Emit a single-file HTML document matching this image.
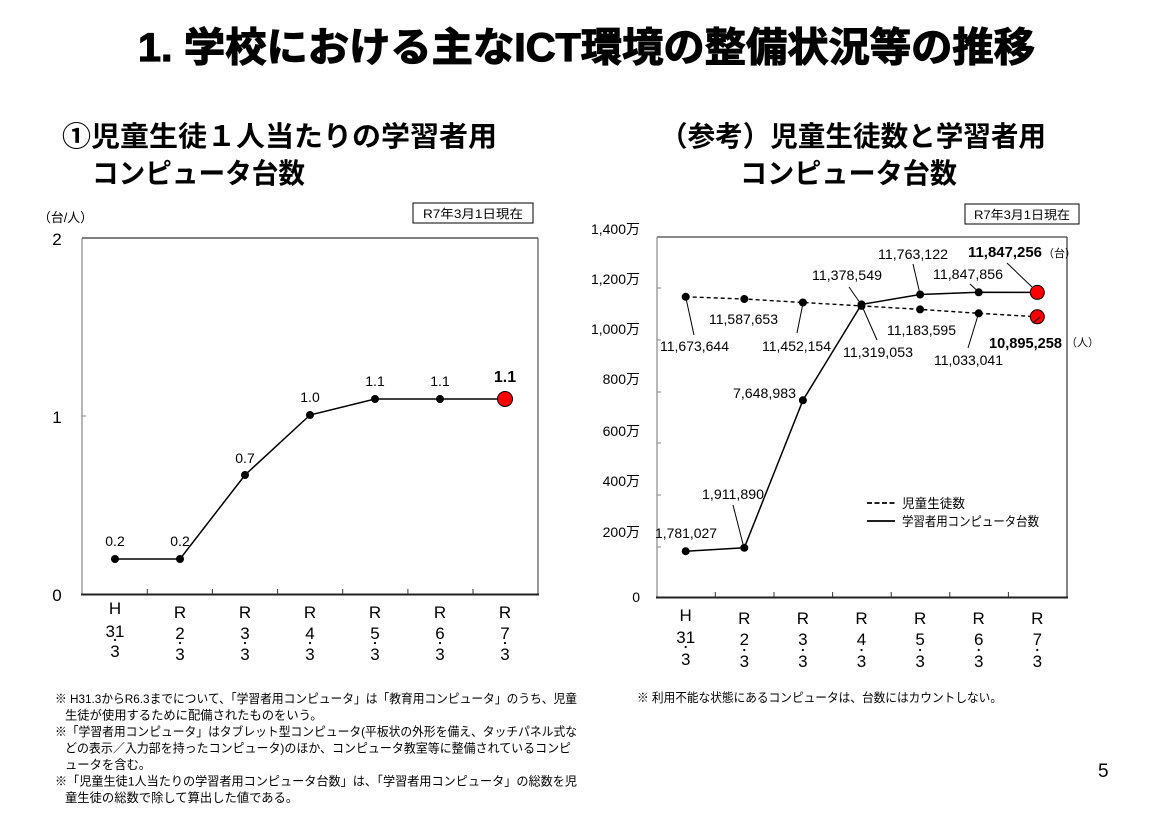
<!DOCTYPE html>
<html><head><meta charset="utf-8"><style>
html,body{margin:0;padding:0;background:#fff;}
svg{display:block;}
text{font-family:"Liberation Sans","Noto Sans CJK JP",sans-serif;fill:#000;}
</style></head><body>
<svg width="1170" height="831" viewBox="0 0 1170 831" xmlns="http://www.w3.org/2000/svg">
<rect width="1170" height="831" fill="#fff"/>
<!-- Title -->
<text x="138" y="61" font-size="40" font-weight="bold" stroke="#000" stroke-width="1.2" textLength="897" lengthAdjust="spacingAndGlyphs">1. 学校における主なICT環境の整備状況等の推移</text>
<!-- Subtitles -->
<text x="62" y="146" font-size="28" font-weight="bold" textLength="435" lengthAdjust="spacingAndGlyphs">①児童生徒１人当たりの学習者用</text>
<text x="92" y="183" font-size="28" font-weight="bold" textLength="213" lengthAdjust="spacingAndGlyphs">コンピュータ台数</text>
<text x="660" y="146" font-size="28" font-weight="bold" textLength="386" lengthAdjust="spacingAndGlyphs">（参考）児童生徒数と学習者用</text>
<text x="740" y="183" font-size="28" font-weight="bold" textLength="217" lengthAdjust="spacingAndGlyphs">コンピュータ台数</text>

<!-- ===== Left chart ===== -->
<text x="38" y="222" font-size="13" textLength="55" lengthAdjust="spacingAndGlyphs">（台/人）</text>
<rect x="413" y="203" width="120" height="20" fill="#fff" stroke="#000" stroke-width="1"/>
<text x="473" y="218" font-size="12" text-anchor="middle" textLength="100" lengthAdjust="spacingAndGlyphs">R7年3月1日現在</text>

<line x1="82" y1="238" x2="538" y2="238" stroke="#333" stroke-width="1.2"/>
<line x1="82" y1="238" x2="82" y2="594" stroke="#888" stroke-width="1.2"/>
<line x1="538" y1="238" x2="538" y2="594" stroke="#555" stroke-width="1.2"/>
<line x1="82" y1="416" x2="86" y2="416" stroke="#888" stroke-width="1"/>
<line x1="81" y1="594.5" x2="539" y2="594.5" stroke="#222" stroke-width="2"/>
<g stroke="#333" stroke-width="1">
<line x1="147.3" y1="594" x2="147.3" y2="589"/>
<line x1="212.4" y1="594" x2="212.4" y2="589"/>
<line x1="277.6" y1="594" x2="277.6" y2="589"/>
<line x1="342.7" y1="594" x2="342.7" y2="589"/>
<line x1="407.9" y1="594" x2="407.9" y2="589"/>
<line x1="473" y1="594" x2="473" y2="589"/>
</g>
<text x="57" y="245" font-size="17" text-anchor="middle">2</text>
<text x="57" y="423" font-size="17" text-anchor="middle">1</text>
<text x="57" y="601" font-size="17" text-anchor="middle">0</text>

<polyline points="115,559 180,559 245,475 310,415 375,399 440,399 505,399" fill="none" stroke="#000" stroke-width="1.5"/>
<g fill="#000">
<circle cx="115" cy="559" r="4"/>
<circle cx="180" cy="559" r="4"/>
<circle cx="245" cy="475" r="4"/>
<circle cx="310" cy="415" r="4"/>
<circle cx="375" cy="399" r="4"/>
<circle cx="440" cy="399" r="4"/>
</g>
<circle cx="505" cy="399" r="7.5" fill="#ff0000" stroke="#000" stroke-width="1"/>
<g font-size="14" text-anchor="middle">
<text x="115" y="546">0.2</text>
<text x="180" y="546">0.2</text>
<text x="245" y="463">0.7</text>
<text x="310" y="402">1.0</text>
<text x="375" y="386">1.1</text>
<text x="440" y="386">1.1</text>
</g>
<text x="505" y="382" font-size="16" font-weight="bold" text-anchor="middle">1.1</text>

<g font-size="17" text-anchor="middle">
<text x="115" y="614">H</text><text x="115" y="637">31</text><text x="115" y="657">3</text>
<text x="180" y="618">R</text><text x="180" y="639">2</text><text x="180" y="660">3</text>
<text x="245" y="618">R</text><text x="245" y="639">3</text><text x="245" y="660">3</text>
<text x="310" y="618">R</text><text x="310" y="639">4</text><text x="310" y="660">3</text>
<text x="375" y="618">R</text><text x="375" y="639">5</text><text x="375" y="660">3</text>
<text x="440" y="618">R</text><text x="440" y="639">6</text><text x="440" y="660">3</text>
<text x="505" y="618">R</text><text x="505" y="639">7</text><text x="505" y="660">3</text>
</g>
<g fill="#000">
<circle cx="115" cy="640" r="1.1"/>
<circle cx="180" cy="643" r="1.1"/>
<circle cx="245" cy="643" r="1.1"/>
<circle cx="310" cy="643" r="1.1"/>
<circle cx="375" cy="643" r="1.1"/>
<circle cx="440" cy="643" r="1.1"/>
<circle cx="505" cy="643" r="1.1"/>
</g>

<!-- ===== Right chart ===== -->
<rect x="965" y="204" width="114" height="20" fill="#fff" stroke="#000" stroke-width="1"/>
<text x="1022" y="219" font-size="12" text-anchor="middle" textLength="96" lengthAdjust="spacingAndGlyphs">R7年3月1日現在</text>

<line x1="657" y1="237" x2="1067" y2="237" stroke="#444" stroke-width="1.2"/>
<line x1="657" y1="237" x2="657" y2="597" stroke="#888" stroke-width="1.2"/>
<line x1="1067" y1="237" x2="1067" y2="597" stroke="#333" stroke-width="1.2"/>
<line x1="656" y1="597.5" x2="1068" y2="597.5" stroke="#222" stroke-width="2"/>
<g stroke="#888" stroke-width="1">
<line x1="657" y1="547" x2="661" y2="547"/>
<line x1="657" y1="495" x2="661" y2="495"/>
<line x1="657" y1="443" x2="661" y2="443"/>
<line x1="657" y1="392" x2="661" y2="392"/>
<line x1="657" y1="340" x2="661" y2="340"/>
<line x1="657" y1="288" x2="661" y2="288"/>
</g>
<g stroke="#333" stroke-width="1">
<line x1="715.3" y1="597" x2="715.3" y2="592"/>
<line x1="774" y1="597" x2="774" y2="592"/>
<line x1="832.6" y1="597" x2="832.6" y2="592"/>
<line x1="891.2" y1="597" x2="891.2" y2="592"/>
<line x1="949.8" y1="597" x2="949.8" y2="592"/>
<line x1="1008.4" y1="597" x2="1008.4" y2="592"/>
</g>
<g font-size="14" text-anchor="end">
<text x="640" y="234">1,400万</text>
<text x="640" y="284">1,200万</text>
<text x="640" y="334">1,000万</text>
<text x="640" y="384">800万</text>
<text x="640" y="436">600万</text>
<text x="640" y="486">400万</text>
<text x="640" y="537">200万</text>
<text x="640" y="602">0</text>
</g>

<!-- students dashed -->
<polyline points="685.7,296.8 744.3,299 802.9,302.5 861.5,305.9 920.1,309.4 978.7,313.3 1037.3,316.8" fill="none" stroke="#000" stroke-width="1.4" stroke-dasharray="4,3"/>
<!-- computers solid -->
<polyline points="685.7,551.2 744.3,547.8 802.9,400.3 861.5,304.4 920.1,294.5 978.7,292.3 1037.3,292.4" fill="none" stroke="#000" stroke-width="1.5"/>
<g fill="#000">
<circle cx="685.7" cy="296.8" r="4"/>
<circle cx="744.3" cy="299" r="4"/>
<circle cx="802.9" cy="302.5" r="4"/>
<circle cx="861.5" cy="305.9" r="4"/>
<circle cx="920.1" cy="309.4" r="4"/>
<circle cx="978.7" cy="313.3" r="4"/>
<circle cx="685.7" cy="551.2" r="4"/>
<circle cx="744.3" cy="547.8" r="4"/>
<circle cx="802.9" cy="400.3" r="4"/>
<circle cx="861.5" cy="304.4" r="4"/>
<circle cx="920.1" cy="294.5" r="4"/>
<circle cx="978.7" cy="292.3" r="4"/>
</g>
<circle cx="1037.3" cy="292.4" r="7" fill="#ff0000" stroke="#000" stroke-width="1"/>
<circle cx="1037.3" cy="316.8" r="7" fill="#ff0000" stroke="#000" stroke-width="1"/>

<!-- leader lines -->
<g stroke="#000" stroke-width="1">
<line x1="685.7" y1="297" x2="694" y2="335"/>
<line x1="803" y1="303" x2="797" y2="333"/>
<line x1="849" y1="287" x2="861.5" y2="305"/>
<line x1="862" y1="306" x2="877" y2="340"/>
<line x1="913" y1="264" x2="920" y2="294"/>
<line x1="970" y1="284" x2="978.7" y2="292"/>
<line x1="968" y1="348" x2="978.7" y2="313"/>
<line x1="1007" y1="263" x2="1032" y2="287"/>
<line x1="1033" y1="323" x2="1040" y2="317"/>
<line x1="733" y1="505" x2="744" y2="548"/>
</g>

<g font-size="14">
<text x="660" y="351" textLength="69" lengthAdjust="spacingAndGlyphs">11,673,644</text>
<text x="709" y="324" textLength="69" lengthAdjust="spacingAndGlyphs">11,587,653</text>
<text x="762" y="351" textLength="69" lengthAdjust="spacingAndGlyphs">11,452,154</text>
<text x="812" y="280" textLength="70" lengthAdjust="spacingAndGlyphs">11,378,549</text>
<text x="843" y="357" textLength="70" lengthAdjust="spacingAndGlyphs">11,319,053</text>
<text x="878" y="259" textLength="70" lengthAdjust="spacingAndGlyphs">11,763,122</text>
<text x="887" y="335" textLength="69" lengthAdjust="spacingAndGlyphs">11,183,595</text>
<text x="933" y="279" textLength="70" lengthAdjust="spacingAndGlyphs">11,847,856</text>
<text x="934" y="365" textLength="69" lengthAdjust="spacingAndGlyphs">11,033,041</text>
<text x="733" y="398" textLength="63" lengthAdjust="spacingAndGlyphs">7,648,983</text>
<text x="702" y="499" textLength="62" lengthAdjust="spacingAndGlyphs">1,911,890</text>
<text x="655" y="538" textLength="62" lengthAdjust="spacingAndGlyphs">1,781,027</text>
</g>
<text x="968" y="257" font-size="15" font-weight="bold" textLength="74" lengthAdjust="spacingAndGlyphs">11,847,256</text>
<text x="1043" y="257" font-size="11">（台）</text>
<text x="989" y="348" font-size="15" font-weight="bold" textLength="73" lengthAdjust="spacingAndGlyphs">10,895,258</text>
<text x="1066" y="346" font-size="11">（人）</text>

<!-- legend -->
<line x1="867" y1="503" x2="895" y2="503" stroke="#000" stroke-width="1.8" stroke-dasharray="5,2.5"/>
<line x1="867" y1="521" x2="895" y2="521" stroke="#000" stroke-width="1.8"/>
<text x="902" y="508" font-size="13" textLength="63" lengthAdjust="spacingAndGlyphs">児童生徒数</text>
<text x="902" y="526" font-size="13" textLength="137" lengthAdjust="spacingAndGlyphs">学習者用コンピュータ台数</text>

<g font-size="17" text-anchor="middle">
<text x="685.7" y="621">H</text><text x="685.7" y="643">31</text><text x="685.7" y="665">3</text>
<text x="744.3" y="624">R</text><text x="744.3" y="645">2</text><text x="744.3" y="667">3</text>
<text x="802.9" y="624">R</text><text x="802.9" y="645">3</text><text x="802.9" y="667">3</text>
<text x="861.5" y="624">R</text><text x="861.5" y="645">4</text><text x="861.5" y="667">3</text>
<text x="920.1" y="624">R</text><text x="920.1" y="645">5</text><text x="920.1" y="667">3</text>
<text x="978.7" y="624">R</text><text x="978.7" y="645">6</text><text x="978.7" y="667">3</text>
<text x="1037.3" y="624">R</text><text x="1037.3" y="645">7</text><text x="1037.3" y="667">3</text>
</g>
<g fill="#000">
<circle cx="685.7" cy="647" r="1.1"/>
<circle cx="744.3" cy="650" r="1.1"/>
<circle cx="802.9" cy="650" r="1.1"/>
<circle cx="861.5" cy="650" r="1.1"/>
<circle cx="920.1" cy="650" r="1.1"/>
<circle cx="978.7" cy="650" r="1.1"/>
<circle cx="1037.3" cy="650" r="1.1"/>
</g>

<!-- footnotes -->
<g font-size="12.3">
<text x="55" y="703" textLength="522" lengthAdjust="spacingAndGlyphs">※ H31.3からR6.3までについて、「学習者用コンピュータ」は「教育用コンピュータ」のうち、児童</text>
<text x="65" y="719.5">生徒が使用するために配備されたものをいう。</text>
<text x="55" y="736" textLength="522" lengthAdjust="spacingAndGlyphs">※「学習者用コンピュータ」はタブレット型コンピュータ(平板状の外形を備え、タッチパネル式な</text>
<text x="65" y="752.5" textLength="506" lengthAdjust="spacingAndGlyphs">どの表示／入力部を持ったコンピュータ)のほか、コンピュータ教室等に整備されているコンピ</text>
<text x="65" y="769">ュータを含む。</text>
<text x="55" y="785.5" textLength="522" lengthAdjust="spacingAndGlyphs">※「児童生徒1人当たりの学習者用コンピュータ台数」は、「学習者用コンピュータ」の総数を児</text>
<text x="65" y="802">童生徒の総数で除して算出した値である。</text>
</g>
<text x="637" y="702" font-size="12.3" textLength="365" lengthAdjust="spacingAndGlyphs">※ 利用不能な状態にあるコンピュータは、台数にはカウントしない。</text>
<text x="1098" y="777" font-size="19">5</text>
</svg>
</body></html>
